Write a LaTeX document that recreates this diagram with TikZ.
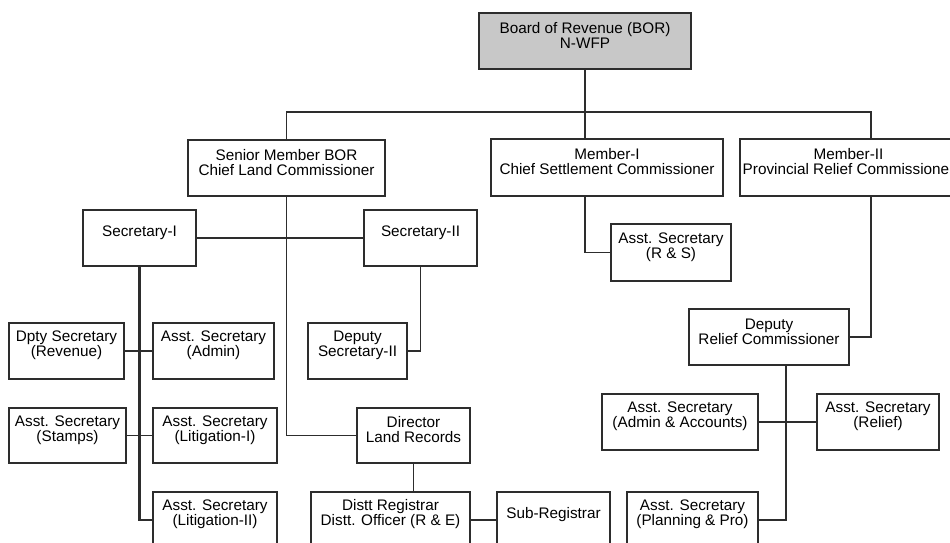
\documentclass[tikz,border=0pt]{standalone}
\usepackage{fontspec}
\setmainfont{Liberation Sans}
\usetikzlibrary{fit}
\definecolor{linegray}{RGB}{45,45,45}
\definecolor{topgray}{RGB}{200,200,200}
\begin{document}
\begin{tikzpicture}[x=0.2mm,y=-0.2mm,
	font=\fontsize{8.7}{8.5}\selectfont,
	box/.style={draw=linegray, line width=0.9pt, inner sep=0pt, align=center, fill=white},
	topbox/.style={box, fill=topgray},
	link/.style={draw=linegray, line width=0.85pt}]
	\useasboundingbox (0,0) rectangle (950,542);
	\node[topbox, fit={(479,13) (691,69)}] (bor) {Board of Revenue (BOR)\\N-WFP};
	\node[box, fit={(188,140) (385,196)}] (senior) {Senior Member BOR\\Chief Land Commissioner};
	\node[box, fit={(491,139) (723,196)}] (mem1) {Member-I\\Chief Settlement Commissioner};
	\node[box, fit={(740,139) (957,196)}] (mem2) {Member-II\\Provincial Relief Commissioner};
	\node[box, fit={(83,210) (196,266)}] (sec1) {Secretary-I\\[8.5pt]};
	\node[box, fit={(364,210) (477,266)}] (sec2) {Secretary-II\\[8.5pt]};
	\node[box, fit={(611,224) (731,281)}] (asrs) {Asst. Secretary\\(R \& S)};
	\node[box, fit={(9,323) (124,379)}] (dptyrev) {Dpty Secretary\\(Revenue)};
	\node[box, fit={(153,323) (274,379)}] (asadmin) {Asst. Secretary\\(Admin)};
	\node[box, fit={(308,323) (407,379)}] (depsec) {Deputy\\Secretary-II};
	\node[box, fit={(689,309) (849,365)}] (deprelief) {Deputy\\Relief Commissioner};
	\node[box, fit={(9,408) (126,463)}] (asstamps) {Asst. Secretary\\(Stamps)};
	\node[box, fit={(153,408) (277,463)}] (aslit) {Asst. Secretary\\(Litigation-I)};
	\node[box, fit={(357,408) (470,463)}] (director) {Director\\Land Records};
	\node[box, fit={(602,394) (758,450)}] (asaccounts) {Asst. Secretary\\(Admin \& Accounts)};
	\node[box, fit={(817,394) (939,450)}] (asrelief) {Asst. Secretary\\(Relief)};
	\node[box, fit={(153,492) (277,548)}] (aslittwo) {Asst. Secretary\\(Litigation-II)};
	\node[box, fit={(311,492) (470,548)}] (distt) {Distt Registrar\\Distt. Officer (R \& E)};
	\node[box, fit={(497,492) (610,548)}] (subreg) {Sub-Registrar\\[8.5pt]};
	\node[box, fit={(627,492) (758,548)}] (asplan) {Asst. Secretary\\(Planning \& Pro)};
	\coordinate (bus) at (584,112);
	\coordinate (mtwo) at (871,112);
	\coordinate (rj) at (786,422);
	\draw[link] (bor.south) -- (bor.south |- mem1.north);
	\draw[link] (senior.north) |- (bus) -- (mtwo) -- (mtwo |- mem2.north);
	\draw[link] (bor.south |- mem1.south) |- (asrs.west);
	\draw[link] (mtwo |- mem2.south) |- (deprelief.east);
	\draw[link] (senior.south) |- (director.west);
	\draw[link] (sec1.east) -- (sec2.west);
	\draw[link, line width=1.2pt] (sec1.south) |- (aslittwo.west);
	\draw[link] (dptyrev.east) -- (asadmin.west);
	\draw[link] (asstamps.east) -- (aslit.west);
	\draw[link] (sec2.south) |- (depsec.east);
	\draw[link] (director.south) -- (director.south |- distt.north);
	\draw[link] (distt.east) -- (subreg.west);
	\draw[link] (deprelief.south -| rj) |- (asplan.east);
	\draw[link] (asaccounts.east) -- (asrelief.west);
\end{tikzpicture}
\end{document}
